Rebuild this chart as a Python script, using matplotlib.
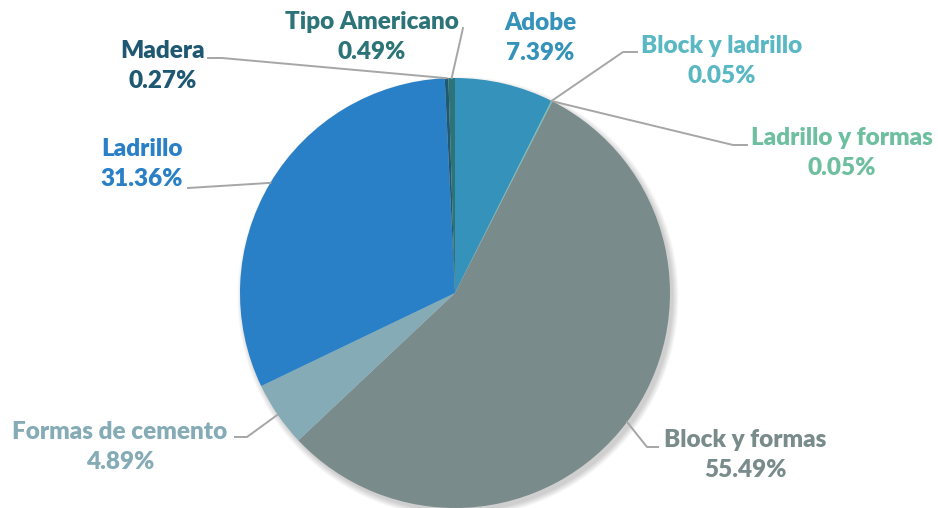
import numpy as np
import matplotlib.pyplot as plt
from matplotlib.patches import Circle

labels = ['Adobe', 'Block y ladrillo', 'Ladrillo y formas', 'Block y formas',
          'Formas de cemento', 'Ladrillo', 'Madera', 'Tipo Americano']
values = [7.39, 0.05, 0.05, 55.49, 4.89, 31.36, 0.27, 0.49]
colors = ['#3592bb', '#5ab8c4', '#6dbfa0', '#7a8b8c',
          '#84abb6', '#2980c6', '#1f5872', '#2d7478']

W, H = 938, 508
cx, cy, R = 455, H - 293, 215

# label block centers and leader elbows/ends (pixel coords, y from top)
label_pos = [(540, 38), (722, 61), (842, 153), (745, 455),
             (120, 447), (142, 164), (163, 66), (372, 37)]
leaders = [None, [(623, 52), (637, 52)], [(733, 145), (747, 145)],
           [(647, 447), (658, 447)], [(247, 437), (235, 437)],
           [(188, 188)], [(222, 58), (208, 58)], [(463, 28)]]

fig = plt.figure(figsize=(W / 100, H / 100), dpi=100)
ax = fig.add_axes([0, 0, 1, 1])

# soft shadow
for k in range(8):
    ax.add_patch(Circle((cx + 3, cy - 4), R + k * 0.8, color='black',
                        alpha=0.025, lw=0, zorder=0))

wedges, _ = ax.pie(values, colors=colors, startangle=90, counterclock=False,
                   center=(cx, cy), radius=R, frame=True,
                   wedgeprops=dict(linewidth=0))

for w, lab, v, col, pos, ld in zip(wedges, labels, values, colors, label_pos, leaders):
    ang = np.deg2rad((w.theta1 + w.theta2) / 2)
    ax.text(pos[0], H - pos[1], f'{lab}\n{v:.2f}%', ha='center', va='center',
            color=col, fontsize=17.5, fontweight='heavy', family='Lato',
            linespacing=1.45)
    if ld is not None:
        xs = [cx + R * np.cos(ang)] + [p[0] for p in ld]
        ys = [cy + R * np.sin(ang)] + [H - p[1] for p in ld]
        ax.plot(xs, ys, color='#a6a6a6', lw=1.4, zorder=5)

ax.set_xlim(0, W)
ax.set_ylim(0, H)
ax.set_aspect('equal')
ax.axis('off')

fig.savefig('out.png', dpi=100)
